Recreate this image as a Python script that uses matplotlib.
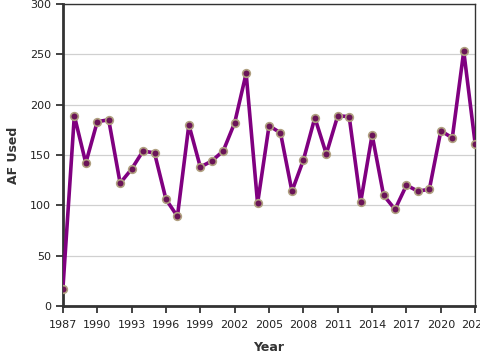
import matplotlib
matplotlib.use("Agg")
import matplotlib.pyplot as plt

years = list(range(1987, 2024))
af_used = [17, 189, 142, 183, 185, 122, 136, 154, 152, 106,
           89, 180, 138, 144, 154, 182, 231, 102, 179, 172,
           114, 145, 187, 151, 189, 188, 103, 170, 110, 96,
           120, 114, 116, 174, 167, 253, 161]
x_ticks = list(range(1987, 2024, 3))
y_ticks = [0, 50, 100, 150, 200, 250, 300]

fig = plt.figure(figsize=(4.8, 3.6), dpi=100)
ax = fig.add_axes([0.131, 0.15, 0.859, 0.839])

ax.plot(years, af_used, color="#800080", linewidth=2.6, zorder=3,
        marker="o", markersize=5.5, markerfacecolor="#6a1458",
        markeredgecolor="#b0a080", markeredgewidth=1.2)

ax.set_xlim(1987, 2023)
ax.set_ylim(0, 300)
ax.set_xticks(x_ticks)
ax.set_yticks(y_ticks)
ax.tick_params(labelsize=8, colors="#222222", length=5, width=1.2)
ax.tick_params(axis="x", pad=5)
ax.grid(True, axis="y", color="#d0d0d0", linewidth=0.9)
ax.set_axisbelow(True)

for side in ["left", "bottom"]:
    ax.spines[side].set_linewidth(2.0)
    ax.spines[side].set_color("#333333")
for side in ["top", "right"]:
    ax.spines[side].set_linewidth(1.0)
    ax.spines[side].set_color("#333333")

ax.set_xlabel("Year", fontsize=9, fontweight="bold", color="#333333", labelpad=8)
ax.set_ylabel("AF Used", fontsize=9, fontweight="bold", color="#333333", labelpad=7)

fig.savefig("out.png", dpi=100)
